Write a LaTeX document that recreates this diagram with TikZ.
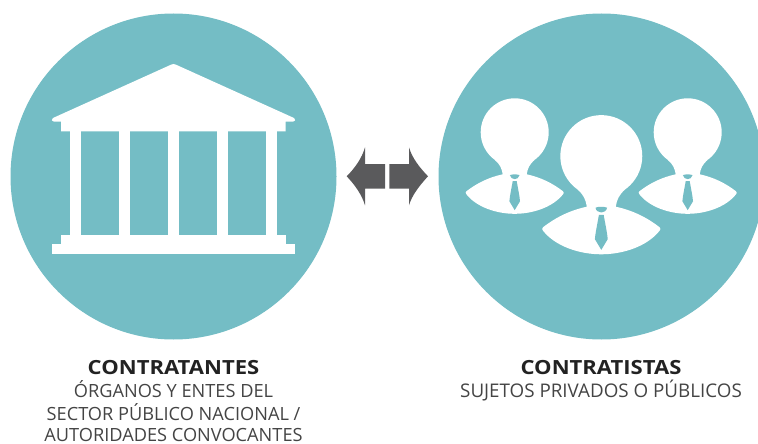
\documentclass[tikz,border=0pt]{standalone}
\usepackage{fontspec}
\setmainfont{Open Sans}
\definecolor{teal1}{HTML}{74BDC5}
\definecolor{arrowgrey}{HTML}{5A5A5C}
\definecolor{titlec}{HTML}{222222}
\definecolor{subc}{HTML}{444444}
\tikzset{
  disc/.style={fill=teal1,draw=none},
  whitepart/.style={fill=white,draw=none},
  tiepart/.style={fill=teal1,draw=none},
  dblarrow/.style={fill=arrowgrey,draw=none},
  titletext/.style={font=\fontsize{19.5}{22}\selectfont\bfseries,text=titlec,anchor=base,inner sep=0pt},
  subtext/.style={font=\fontsize{18.2}{22}\selectfont,text=subc,anchor=base,inner sep=0pt},
  subwide/.style={font=\fontsize{18.8}{22}\selectfont,text=subc,anchor=base,inner sep=0pt},
}
\newcommand{\drawperson}[3]{%
\begin{scope}[shift={(#1,#2)},scale=#3]
  \fill[whitepart] (0,-42) circle (34);
  \fill[whitepart] (-12,0) .. controls (-13,-6) and (-14.5,-9.5) .. (-19.7,-14.3)
     -- (19.7,-14.3) .. controls (14.5,-9.5) and (13,-6) .. (12,0)
     .. controls (26,3) and (38,9) .. (48.3,17)
     .. controls (49.3,18) and (49.3,19) .. (48.3,20)
     .. controls (38,33) and (18,39.5) .. (0,39.5)
     .. controls (-18,39.5) and (-38,33) .. (-48.3,20)
     .. controls (-49.3,19) and (-49.3,18) .. (-48.3,17)
     .. controls (-38,9) and (-26,3) .. (-12,0) -- cycle;
  \fill[tiepart] (-4.8,0.8) .. controls (-2,-0.2) and (2,-0.2) .. (4.8,0.8)
     .. controls (4.5,3.5) and (2,4.8) .. (0,4.8)
     .. controls (-2,4.8) and (-4.5,3.5) .. (-4.8,0.8) -- cycle;
  \fill[tiepart] (-2,6.8) -- (2,6.8) .. controls (3,13) and (5,22) .. (5.3,27)
     -- (0,35.8) -- (-5.3,27) .. controls (-5,22) and (-3,13) .. (-2,6.8) -- cycle;
\end{scope}}
\begin{document}
\begin{tikzpicture}[x=1pt,y=-1pt]
\useasboundingbox (0,0) rectangle (758,444);
% discs
\begin{scope}
  \clip (0,0) rectangle (758,444);
  \fill[disc] (173.5,176.5) circle (163);
  \fill[disc] (601.5,176.5) circle (163);
\end{scope}
% temple
\fill[whitepart] (173.5,64) .. controls (174.5,64) and (175,64.2) .. (176,64.7)
  -- (294,118) .. controls (296,119.3) and (295.5,121.7) .. (293,121.7)
  -- (285.7,121.7) -- (285.7,131.3) -- (61,131.3) -- (61,121.7) -- (54,121.7)
  .. controls (51.5,121.7) and (51,119.3) .. (53,118)
  -- (171,64.7) .. controls (172,64.2) and (172.5,64) .. (173.5,64) -- cycle;
\foreach \cx in {70,118.8,167.7,216.7,265.7}
  \fill[whitepart] (\cx,130) rectangle (\cx+11.2,236);
\fill[whitepart] (61,235) rectangle (285.7,245);
\fill[whitepart] (51.5,244.3) rectangle (295,254.3);
% people
\drawperson{514.7}{174.3}{1}
\drawperson{687.7}{174.3}{1}
\drawperson{601.3}{206.7}{1.205}
% arrows
\fill[dblarrow] (346.7,176.3) .. controls (355,168) and (362,158) .. (365,147.3)
  -- (365,164) -- (385,164) -- (385,188.7) -- (365,188.7) -- (365,205.3)
  .. controls (362,195) and (355,185) .. (346.7,176.3) -- cycle;
\fill[dblarrow] (428,176.3) .. controls (420,168) and (412,158) .. (409,147.3)
  -- (409,164) -- (389.3,164) -- (389.3,188.7) -- (409,188.7) -- (409,205.3)
  .. controls (412,195) and (420,185) .. (428,176.3) -- cycle;
% labels
\node[titletext] (t1) at (173.5,374) {\scalebox{1.13}[1]{CONTRATANTES}};
\node[subtext] (s1a) at (173.5,397) {ÓRGANOS Y ENTES DEL};
\node[subtext] (s1b) at (173.5,420) {SECTOR PÚBLICO NACIONAL /};
\node[subtext] (s1c) at (173.5,441.5) {AUTORIDADES CONVOCANTES};
\node[titletext] (t2) at (601,374) {\scalebox{1.13}[1]{CONTRATISTAS}};
\node[subwide] (s2a) at (601,397) {SUJETOS PRIVADOS O PÚBLICOS};
\end{tikzpicture}
\end{document}
